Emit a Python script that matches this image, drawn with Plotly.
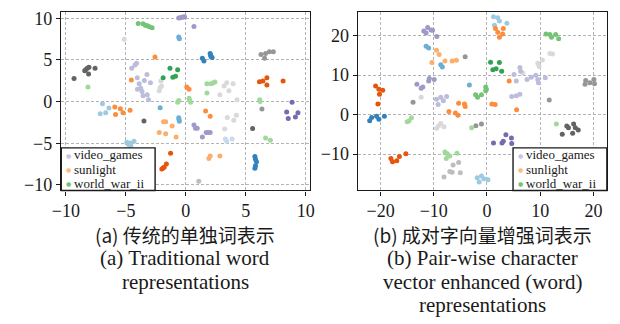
import plotly.graph_objects as go

# ---------------- data (t-SNE coordinates) ----------------
# left panel: (a) traditional word representations
L_purple_x = [-0.59, -0.46, -0.32, -0.19, -0.11, 0.68, 0.68, 0.81, 0.95, 1.38, 1.70, 1.84, 2.03]
L_purple_y = [10.04, 10.08, 10.12, 10.16, 10.20, 9.02, -2.81, -3.20, -3.20, -4.26, -3.71, -3.71, -3.71]
L_midgreen_x = [-3.97, -3.57, -3.38, -3.22, -3.03, -2.81]
L_midgreen_y = [9.38, 9.34, 9.18, 9.10, 8.98, 8.87]
L_lightgray_x = [-5.14, -2.22, -2.14, -2.03, -2.08, 2.84, 3.19, 3.41, 3.59, 3.95, 4.27, 3.46, 4.00, 4.22, 3.24]
L_lightgray_y = [7.50, 1.29, 1.68, 1.88, 2.46, 0.82, 1.88, 2.27, 1.29, 2.15, 0.23, -1.91, -2.23, -1.64, -3.28]
L_iceblue_x = [3.41, 3.86, 3.30]
L_iceblue_y = [-4.77, -4.49, -4.50]
L_sky_x = [-0.59, -0.54, -2.14, -0.59, -0.57, -0.54]
L_sky_y = [7.77, 7.54, -0.74, -1.95, -2.15, -2.35]
L_blue_x = [1.38, 1.51, 2.03, 2.05, 2.11, 2.19, 5.76, 5.81, 5.89, 5.81, 5.76]
L_blue_y = [5.20, 4.88, 5.78, 5.59, 5.39, 5.31, -6.60, -6.91, -7.23, -7.70, -8.01]
L_gray_x = [6.27, 6.57, 6.65, 6.97, 7.30, 6.35]
L_gray_y = [5.66, 5.20, 5.78, 5.98, 5.98, -0.90]
L_darkgray_x = [-9.32, -8.43, -8.35, -8.22, -8.08, -8.11, -7.57, -3.49, 5.57]
L_darkgray_y = [2.77, 3.71, 3.83, 4.02, 4.14, 3.32, 4.02, -2.34, -3.24]
L_silver_x = [1.08]
L_silver_y = [-9.57]
L_palegreen_x = [-8.16, 1.76, 2.11, 2.30, 2.43, 1.76, 6.16, 6.20, 6.65, 7.05, -0.59, -0.68, 0.27, 0.41, 0.30]
L_palegreen_y = [1.76, 2.15, 2.15, 2.27, 2.34, 1.02, 0.23, 0.00, -4.38, -4.65, 0.12, -0.08, 0.39, -0.08, 0.20]
L_green_x = [-1.89, -1.32, -1.08, -0.86, -0.68]
L_green_y = [2.85, 4.02, 2.93, 3.05, 3.83]
L_lavender_x = [-4.51, -4.24, -4.11, -4.05, -4.03, -3.89, -3.76, -3.65, -3.57, -3.24, -3.22, -3.11, -2.95, -3.46]
L_lavender_y = [4.02, 4.41, 4.61, 2.85, 1.48, 2.15, 1.60, 1.21, 0.70, 3.24, 0.82, 0.23, 2.27, 2.54]
L_paleblue_x = [-4.92, -4.78, -4.59, -4.32, -4.65, -7.14, -6.95, -6.68, -6.41]
L_paleblue_y = [-4.88, -5.16, -5.27, -4.77, -4.96, -1.45, -0.27, -1.33, -0.78]
L_orange_x = [-2.57, -4.54, -5.92, -5.86, -5.46, -5.24, -4.65, 0.08, 0.27, 1.65, 2.03]
L_orange_y = [5.35, 2.58, -0.66, -1.56, -0.86, -1.33, -1.05, 1.76, 1.48, -1.13, -1.76]
L_peach_x = [-2.22, -1.86, -1.68, -1.68, -1.14, -0.81, 1.92, 2.03, 2.84]
L_peach_y = [-3.71, -2.42, -2.42, -3.87, -2.93, -4.26, -6.84, -6.52, -6.52]
L_violet_x = [8.41, 8.54, 8.86, 9.14, 9.35]
L_violet_y = [-1.25, -2.03, -0.08, -1.84, -1.33]
L_redorange_x = [6.14, 6.43, 6.76, 6.76, 8.11, -2.00, -1.89, -1.81, -1.62, -1.27]
L_redorange_y = [2.38, 2.46, 2.85, 1.99, 2.46, -8.09, -7.97, -7.89, -7.50, -6.21]

# right panel: (b) pair-wise character vector enhanced representations
R_paleblue_x = [1.22, 1.41, 2.02, 2.33, 3.74, -1.84, -1.47, -1.04, -0.61, 0.18]
R_paleblue_y = [24.80, 22.67, 24.57, 23.74, 23.17, -16.00, -17.07, -15.58, -16.24, -16.49]
R_orange_x = [1.59, 2.02, 2.33, 2.94, 3.06, 4.16, 5.57, 0.92, 1.53, -7.16, -5.94, -5.45, -5.33, -4.23, -4.10]
R_orange_y = [21.85, 20.86, 19.62, 20.45, 21.85, 8.49, 1.24, 2.72, 2.56, 0.82, 0.41, -0.16, 2.89, 2.72, 2.06]
R_purple_x = [-11.88, -11.45, -11.15, -10.53, -10.23, -9.43, -13.17, -12.37, -12.06, -10.84, -9.92, -10.96]
R_purple_y = [21.19, 20.69, 22.09, 21.43, 21.35, 19.79, 7.67, 6.68, 7.01, 9.15, 8.90, 8.49]
R_sky_x = [-11.45, -10.96, -8.70, -8.39, -3.31]
R_sky_y = [17.31, 16.90, 12.61, 12.04, 7.50]
R_peach_x = [-9.49, -9.00, -10.35, -7.90, -6.55, -5.76]
R_peach_y = [16.32, 15.25, 13.19, 13.60, 13.60, 13.77]
R_gray_x = [-4.10, 11.70, -2.08, -1.04, -13.90, 18.43, 18.55, 19.35, 20.09, 20.21]
R_gray_y = [14.67, 3.71, -2.80, -2.39, 3.13, 7.67, 8.66, 8.08, 8.90, 7.83]
R_midgreen_x = [11.08, 11.82, 12.12, 12.92, 13.47, -2.14, -1.78, -1.04, -0.24, -0.12, -0.24]
R_midgreen_y = [20.45, 20.28, 19.62, 20.28, 19.21, 5.03, 4.37, 5.03, 7.01, 6.43, 6.02]
R_lightgray_x = [9.55, 9.80, 10.41, 11.82, 12.31, -12.37, -9.12, -8.70, -8.08, -9.49, 6.74]
R_lightgray_y = [13.03, 12.20, 13.85, 15.50, 15.33, 4.37, -2.89, -2.23, -3.05, -3.46, 10.55]
R_green_x = [0.67, 1.10, 1.71, 2.33, 2.76]
R_green_y = [13.27, 11.38, 11.62, 13.19, 10.96]
R_lavender_x = [5.08, 5.51, 6.18, 6.31, 7.53, 8.33, 9.18, 9.55, 9.68, 10.96, 4.65, 5.51, 6.18, -9.49, -9.19, -8.70, -8.21, -7.59]
R_lavender_y = [10.14, 8.49, 11.95, 10.96, 8.90, 9.48, 9.98, 8.90, 8.08, 9.32, 4.62, 4.78, 5.19, 3.87, 2.56, 4.37, 3.54, 4.62]
R_violet_x = [1.22, 2.82, 3.06, 3.55, 4.59, 4.65]
R_violet_y = [-7.17, -7.17, -6.76, -5.11, -5.94, -7.34]
R_redorange_x = [-20.94, -20.33, -20.21, -19.60, -20.51, -18.06, -17.76, -16.96, -16.47, -15.25]
R_redorange_y = [7.25, 6.43, 5.19, 6.18, 2.72, -11.13, -11.95, -11.71, -10.63, -9.89]
R_blue_x = [-22.05, -21.68, -20.76, -20.33, -19.29]
R_blue_y = [-1.57, -0.74, -0.41, -1.15, -0.41]
R_palegreen_x = [-15.00, -14.64, -14.21, -2.88, 13.04, -7.90, -7.47, -7.65, -6.98, -5.63]
R_palegreen_y = [-1.81, -1.57, -0.82, -3.30, -2.39, -9.48, -9.89, -11.13, -10.47, -9.81]
R_darkgray_x = [14.15, 15.00, 15.31, 16.10, 16.29, 16.60, 17.15]
R_darkgray_y = [-4.95, -2.89, -3.30, -4.70, -2.39, -3.30, -3.87]
R_silver_x = [-8.08, -6.98, -6.55, -6.37, -5.33, -5.02]
R_silver_y = [-15.83, -14.43, -14.59, -12.78, -12.12, -14.76]

legend_labels = ["video_games", "sunlight", "world_war_ii"]

left_xticks = [-10, -5, 0, 5, 10]
left_yticks = [-10, -5, 0, 5, 10]
right_xticks = [-20, -10, 0, 10, 20]
right_yticks = [-10, 0, 10, 20]

caption_left = ["(a) 传统的单独词表示", "(a) Traditional word", "representations"]
caption_right = ["(b) 成对字向量增强词表示", "(b) Pair-wise character",
                 "vector enhanced (word)", "representations"]

# ---------------- styling ----------------
palette = {
    "blue": "#3182bd", "sky": "#6baed6", "paleblue": "#9ecae1", "iceblue": "#c6dbef",
    "redorange": "#e6550d", "orange": "#fd8d3c", "peach": "#fdae6b",
    "green": "#31a354", "midgreen": "#74c476", "palegreen": "#a1d99b",
    "violet": "#756bb1", "purple": "#9e9ac8", "lavender": "#bcbddc",
    "darkgray": "#636363", "gray": "#969696", "silver": "#bdbdbd", "lightgray": "#d9d9d9",
}
legend_colors = ["#c8c7e1", "#fdbb82", "#74c476"]

left_groups = [
    ("purple", L_purple_x, L_purple_y), ("midgreen", L_midgreen_x, L_midgreen_y),
    ("lightgray", L_lightgray_x, L_lightgray_y), ("iceblue", L_iceblue_x, L_iceblue_y),
    ("sky", L_sky_x, L_sky_y), ("blue", L_blue_x, L_blue_y), ("gray", L_gray_x, L_gray_y),
    ("darkgray", L_darkgray_x, L_darkgray_y), ("silver", L_silver_x, L_silver_y),
    ("palegreen", L_palegreen_x, L_palegreen_y), ("green", L_green_x, L_green_y),
    ("lavender", L_lavender_x, L_lavender_y), ("paleblue", L_paleblue_x, L_paleblue_y),
    ("orange", L_orange_x, L_orange_y), ("peach", L_peach_x, L_peach_y),
    ("violet", L_violet_x, L_violet_y), ("redorange", L_redorange_x, L_redorange_y),
]
right_groups = [
    ("paleblue", R_paleblue_x, R_paleblue_y), ("orange", R_orange_x, R_orange_y),
    ("purple", R_purple_x, R_purple_y), ("sky", R_sky_x, R_sky_y),
    ("peach", R_peach_x, R_peach_y), ("gray", R_gray_x, R_gray_y),
    ("midgreen", R_midgreen_x, R_midgreen_y), ("lightgray", R_lightgray_x, R_lightgray_y),
    ("green", R_green_x, R_green_y), ("lavender", R_lavender_x, R_lavender_y),
    ("violet", R_violet_x, R_violet_y), ("redorange", R_redorange_x, R_redorange_y),
    ("blue", R_blue_x, R_blue_y), ("palegreen", R_palegreen_x, R_palegreen_y),
    ("darkgray", R_darkgray_x, R_darkgray_y), ("silver", R_silver_x, R_silver_y),
]

W, H = 620, 324
OFF = 8  # the page body adds an 8 px margin around the figure
SERIF = "Liberation Serif"
CJK = "Noto Sans CJK SC"


def px_x(p):
    """page pixel (x) -> paper fraction"""
    return (p - OFF) / W


def px_y(p):
    """page pixel (y, from top) -> paper fraction"""
    return (H - (p - OFF)) / H


fig = go.Figure()
for name, xs, ys in left_groups:
    fig.add_trace(go.Scatter(x=xs, y=ys, mode="markers", xaxis="x", yaxis="y",
                             marker=dict(size=5, color=palette[name], line=dict(width=0)),
                             name=name, showlegend=False))
for name, xs, ys in right_groups:
    fig.add_trace(go.Scatter(x=xs, y=ys, mode="markers", xaxis="x2", yaxis="y2",
                             marker=dict(size=5, color=palette[name], line=dict(width=0)),
                             name=name, showlegend=False))

axis_style = dict(
    showline=True, mirror=True, linecolor="#1a1a1a", linewidth=1.4,
    ticks="outside", ticklen=4, tickwidth=1.2, tickcolor="#1a1a1a",
    showgrid=True, gridcolor="#b3b3b3", gridwidth=0.8, griddash="3px,2px",
    zeroline=False, tickfont=dict(family=SERIF, size=18, color="#1a1a1a"),
    ticklabeloverflow="allow", fixedrange=True,
)

TOP = 9.0      # page y of the top frame line
BOTTOM = 192.0  # page y of the bottom frame line
# left: y=10 at 15.5 px, y=-10 at 186.3 px
ly_scale = (186.3 - 15.5) / 20.0
ly_top = 10 + (15.5 - TOP) / ly_scale
ly_bot = -10 - (BOTTOM - 186.3) / ly_scale
# right: y=20 at 33.3 px, y=-10 at 154.7 px
ry_scale = (154.7 - 33.3) / 30.0
ry_top = 20 + (33.3 - TOP) / ry_scale
ry_bot = -10 - (BOTTOM - 154.7) / ry_scale

fig.update_layout(
    width=W, height=H, margin=dict(l=0, r=0, t=0, b=0),
    paper_bgcolor="white", plot_bgcolor="white", showlegend=False,
    font=dict(family=SERIF, color="#1a1a1a"),
    xaxis=dict(domain=[px_x(53), px_x(307.7)], range=[-10.41, 10.35], anchor="y",
               tickvals=left_xticks, **axis_style),
    yaxis=dict(domain=[px_y(BOTTOM), px_y(TOP)], range=[ly_bot, ly_top], anchor="x",
               tickvals=left_yticks, **axis_style),
    xaxis2=dict(domain=[px_x(356.7), px_x(611.7)], range=[-24.28, 22.57], anchor="y2",
                tickvals=right_xticks, **axis_style),
    yaxis2=dict(domain=[px_y(BOTTOM), px_y(TOP)], range=[ry_bot, ry_top], anchor="x2",
                tickvals=right_yticks, **axis_style),
)

shapes = []
annotations = []
# legend boxes (one per panel)
for box_left in (53.3, 515.5):
    box_right = box_left + 96
    shapes.append(dict(type="rect", xref="paper", yref="paper",
                       x0=px_x(box_left), x1=px_x(box_right), y0=px_y(BOTTOM), y1=px_y(148.3),
                       line=dict(color="#1a1a1a", width=1.4), fillcolor="white", layer="above"))
    for i, (lab, col) in enumerate(zip(legend_labels, legend_colors)):
        yline = 155.6 + i * 14.6
        annotations.append(dict(xref="paper", yref="paper", x=px_x(box_left + 7.5), y=px_y(yline + 0.5),
                                xanchor="center", yanchor="middle", showarrow=False, borderpad=0,
                                text="●", font=dict(family="DejaVu Sans", size=6, color=col)))
        annotations.append(dict(xref="paper", yref="paper", x=px_x(box_left + 12.5), y=px_y(yline),
                                xanchor="left", yanchor="middle", showarrow=False, borderpad=0,
                                text=lab, font=dict(family=SERIF, size=13, color="#1a1a1a")))

caption_rows = [237, 261.5, 286, 309.5]
for center, lines in ((180.3, caption_left), (484.2, caption_right)):
    for i, line in enumerate(lines):
        is_cjk = i == 0
        annotations.append(dict(xref="paper", yref="paper", x=px_x(center), y=px_y(caption_rows[i]),
                                xanchor="center", yanchor="middle", showarrow=False, borderpad=0,
                                text=line,
                                font=dict(family=(CJK if is_cjk else SERIF), size=(19 if is_cjk else 21),
                                          color="#1a1a1a")))

fig.update_layout(shapes=shapes, annotations=annotations)
fig.write_html("out.html")
